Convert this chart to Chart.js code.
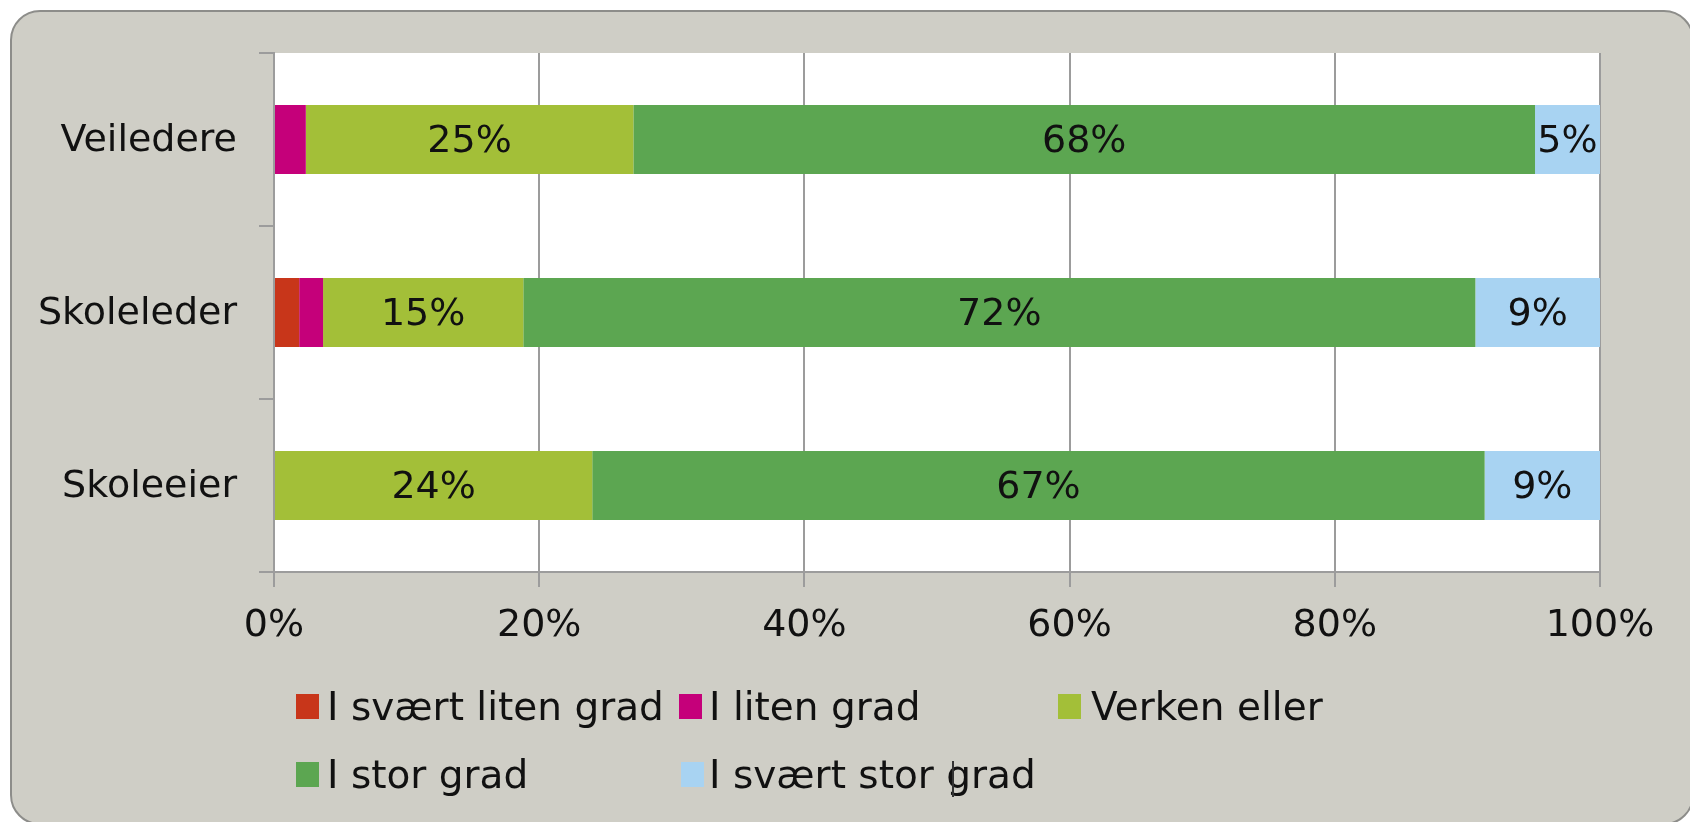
<!DOCTYPE html>
<html>
<head>
<meta charset="utf-8">
<script src="https://cdn.jsdelivr.net/npm/chart.js@4/dist/chart.umd.min.js"></script>
<style>
  html, body { margin: 0; padding: 0; background: #fff; overflow: hidden; }
  body { width: 1690px; height: 822px; position: relative; font-family: "DejaVu Sans", Verdana, sans-serif; }
  .panel {
    position: absolute; left: 10px; top: 10px; width: 1680px; height: 811px;
    background: #cfcec6; border: 2px solid #8d8d8a; border-radius: 30px;
  }
  #chart { position: absolute; left: 0; top: 0; }
  .leg-box { position: absolute; width: 23px; height: 25px; }
  .leg-text {
    position: absolute; white-space: nowrap; font-size: 39px; line-height: 40px; color: #111;
  }
  .cursor { position: absolute; left: 952px; top: 761px; width: 2px; height: 36px; background: #333; }
</style>
</head>
<body>
<div class="panel"></div>
<canvas id="chart" width="1690" height="822"></canvas>
<div id="legend"></div>
<div class="cursor"></div>

<script>
// data (percent of each group)
const groups = ['Veiledere', 'Skoleleder', 'Skoleeier'];
const seriesNames = ['I svært liten grad', 'I liten grad', 'Verken eller', 'I stor grad', 'I svært stor grad'];
const sværtLiten = [0, 1.9, 0];
const liten = [2.4, 1.8, 0];
const verken = [24.7, 15.1, 24.0];
const stor = [68.0, 71.8, 67.3];
const sværtStor = [4.9, 9.4, 8.7];
const xTicks = [0, 20, 40, 60, 80, 100];

const colors = ['#c8361a', '#c5007a', '#a3bf38', '#5ca651', '#a8d3f2'];
const seriesValues = [sværtLiten, liten, verken, stor, sværtStor];

const FONT = '"DejaVu Sans", Verdana, sans-serif';
const gridColor = '#9c9c9c';

// white plot area behind the bars
const plotBg = {
  id: 'plotBg',
  beforeDraw(chart) {
    const { ctx, chartArea: a } = chart;
    ctx.save();
    ctx.fillStyle = '#ffffff';
    ctx.fillRect(a.left, a.top, a.right - a.left, a.bottom - a.top);
    ctx.restore();
  }
};

// percent labels centred in the segments
const barLabels = {
  id: 'barLabels',
  afterDatasetsDraw(chart) {
    const ctx = chart.ctx;
    ctx.save();
    ctx.font = '38px ' + FONT;
    ctx.fillStyle = '#111';
    ctx.textAlign = 'center';
    ctx.textBaseline = 'middle';
    chart.data.datasets.forEach((ds, i) => {
      const meta = chart.getDatasetMeta(i);
      meta.data.forEach((bar, j) => {
        const v = ds.data[j];
        if (v < 3) return;
        const p = bar.getProps(['x', 'y', 'base'], true);
        ctx.fillText(Math.round(v) + '%', (p.x + p.base) / 2, p.y + 3);
      });
    });
    ctx.restore();
  }
};

const chart = new Chart(document.getElementById('chart'), {
  type: 'bar',
  data: {
    labels: groups,
    datasets: seriesNames.map((name, i) => ({
      label: name,
      data: seriesValues[i],
      backgroundColor: colors[i],
      borderWidth: 0,
      categoryPercentage: 0.4,
      barPercentage: 1
    }))
  },
  options: {
    indexAxis: 'y',
    responsive: false,
    animation: false,
    layout: { padding: { top: 53, right: 90, left: 0, bottom: 0 } },
    plugins: { legend: { display: false }, tooltip: { enabled: false } },
    scales: {
      x: {
        stacked: true,
        min: 0,
        max: 100,
        afterFit: (s) => { s.height = 250; },
        afterBuildTicks: (s) => { s.ticks = xTicks.map(v => ({ value: v })); },
        ticks: {
          callback: (v) => v + '%',
          font: { family: FONT, size: 38 },
          color: '#111',
          padding: 16
        },
        grid: { color: gridColor, lineWidth: 2, tickLength: 15, drawOnChartArea: true },
        border: { color: gridColor, width: 2 }
      },
      y: {
        stacked: true,
        afterFit: (s) => { s.width = 274; },
        ticks: {
          font: { family: FONT, size: 38 },
          color: '#111',
          padding: 22,
          labelOffset: 2
        },
        grid: { color: gridColor, lineWidth: 2, tickLength: 15, drawOnChartArea: false, offset: true },
        border: { color: gridColor, width: 2 }
      }
    }
  },
  plugins: [plotBg, barLabels]
});

// legend laid out in the same irregular columns as the original
const legendSlots = [
  { box: 296, text: 327, top: 687 },
  { box: 679, text: 709, top: 687 },
  { box: 1058, text: 1091, top: 687 },
  { box: 296, text: 327, top: 755 },
  { box: 681, text: 709, top: 755 }
];
const legend = document.getElementById('legend');
chart.data.datasets.forEach((ds, i) => {
  const s = legendSlots[i];
  const box = document.createElement('div');
  box.className = 'leg-box';
  box.style.cssText = `left:${s.box}px;top:${s.top + 7}px;background:${ds.backgroundColor}`;
  const txt = document.createElement('div');
  txt.className = 'leg-text';
  txt.style.cssText = `left:${s.text}px;top:${s.top}px`;
  txt.textContent = ds.label;
  legend.appendChild(box);
  legend.appendChild(txt);
});
</script>
</body>
</html>
